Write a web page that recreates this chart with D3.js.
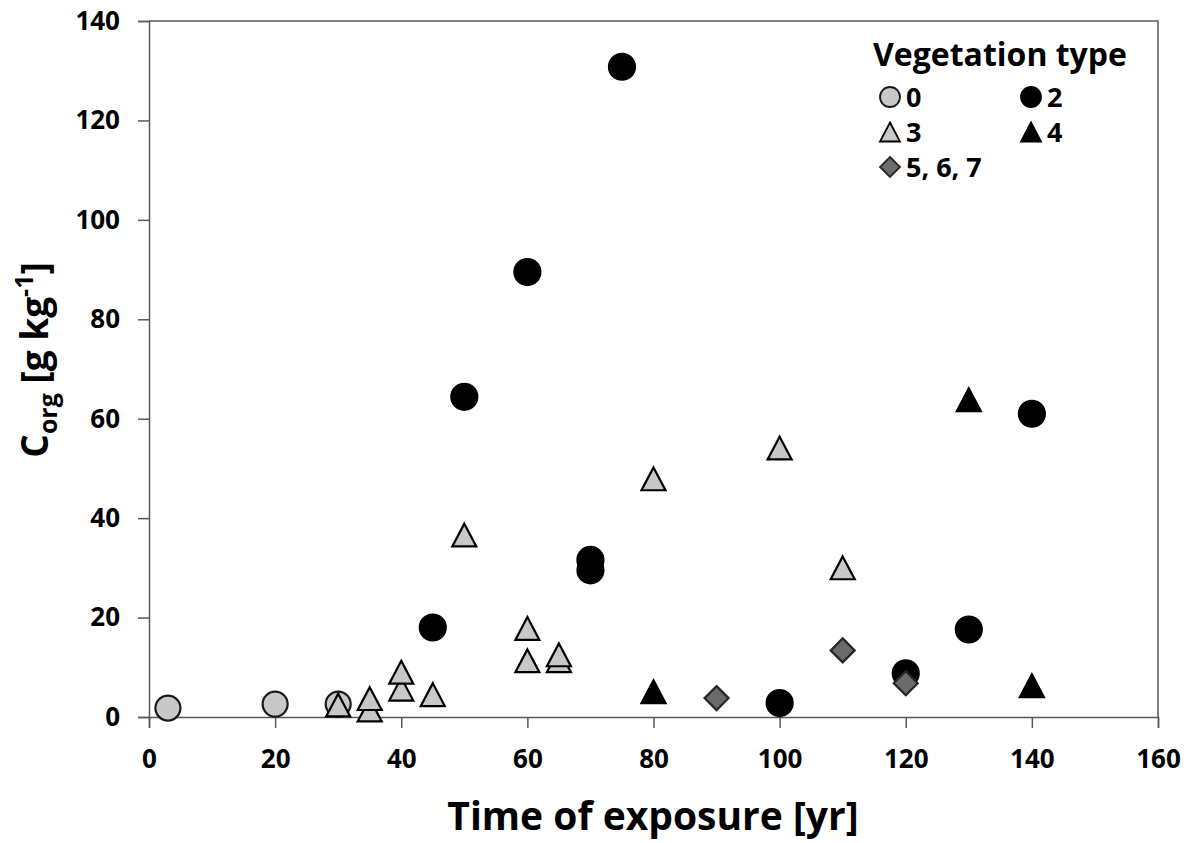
<!DOCTYPE html>
<html>
<head>
<meta charset="utf-8">
<script src="https://cdn.jsdelivr.net/npm/d3@7"></script>
<style>
  body { margin: 0; background: #fff; }
  svg { display: block; }
  text { font-family: 'Open Sans', sans-serif; font-weight: bold; }
</style>
</head>
<body>
<div id="chart"></div>
<script>
// data
const type0 = [[3, 1.8], [20, 2.6], [30, 2.6]];
const type2 = [[45, 18], [50, 64.4], [60, 89.5], [70, 29.5], [70, 31.6], [75, 130.8],
               [100, 2.8], [120, 8.8], [130, 17.6], [140, 61]];
const type3 = [[30, 2.4], [35, 1.4], [35, 3.7], [40, 5.6], [40, 9.0], [45, 4.5], [50, 36.6],
               [60, 17.8], [60, 11.3], [65, 11.3], [65, 12.5], [80, 47.9], [100, 54.1], [110, 30]];
const type4 = [[80, 5.1], [130, 63.8], [140, 6.3]];
const type567 = [[90, 3.8], [110, 13.4], [120, 6.8]];
const xTicks = [0, 20, 40, 60, 80, 100, 120, 140, 160];
const yTicks = [0, 20, 40, 60, 80, 100, 120, 140];

const width = 1196, height = 843;
const plotLeft = 149, plotRight = 1158, plotTop = 21, plotBottom = 717;

const svg = d3.select("#chart").append("svg")
  .attr("width", width)
  .attr("height", height);

const x = d3.scaleLinear().domain([0, 160]).range([plotLeft, plotRight]);
const y = d3.scaleLinear().domain([0, 140]).range([plotBottom, plotTop]);

// frame (top + right)
svg.append("path")
  .attr("d", `M${plotLeft},${plotTop}H${plotRight}V${plotBottom}`)
  .attr("fill", "none")
  .attr("stroke", "#595959")
  .attr("stroke-width", 1.5);

const xAxis = svg.append("g")
  .attr("transform", `translate(0,${plotBottom})`)
  .call(d3.axisBottom(x).tickValues(xTicks).tickSize(11).tickPadding(22));
const yAxis = svg.append("g")
  .attr("transform", `translate(${plotLeft},0)`)
  .call(d3.axisLeft(y).tickValues(yTicks).tickSize(11).tickPadding(18));

[xAxis, yAxis].forEach(g => {
  g.select(".domain").attr("stroke", "#595959").attr("stroke-width", 1.5);
  g.selectAll(".tick line").attr("stroke", "#595959").attr("stroke-width", 1.5);
  g.selectAll(".tick text")
    .attr("fill", "#000")
    .style("font-family", "'Open Sans', sans-serif")
    .style("font-weight", "bold")
    .style("font-size", "26px");
});

// marker shapes, centred on their bounding box
function shape(kind, s) {
  const h = s / 2;
  if (kind === "circle") return d3.symbol(d3.symbolCircle, Math.PI * h * h)();
  if (kind === "triangle") return `M0,${-h * 0.95}L${h},${h * 0.95}L${-h},${h * 0.95}Z`;
  if (kind === "diamond") return `M0,${-h}L${h},0L0,${h}L${-h},0Z`;
}

const series = [
  { name: "0", data: type0, kind: "circle", fill: "#c8c8c8", stroke: "#1a1a1a", size: 25 },
  { name: "2", data: type2, kind: "circle", fill: "#000", stroke: "#000", size: 26 },
  { name: "3", data: type3, kind: "triangle", fill: "#c8c8c8", stroke: "#000", size: 24 },
  { name: "4", data: type4, kind: "triangle", fill: "#000", stroke: "#000", size: 24 },
  { name: "5, 6, 7", data: type567, kind: "diamond", fill: "#6b6b6b", stroke: "#262626", size: 24 }
];

series.forEach(s => {
  svg.append("g").selectAll("path")
    .data(s.data)
    .enter()
    .append("path")
    .attr("d", shape(s.kind, s.size))
    .attr("transform", d => `translate(${x(d[0])},${y(d[1])})`)
    .attr("fill", s.fill)
    .attr("stroke", s.stroke)
    .attr("stroke-width", 2.2)
    .attr("stroke-linejoin", "miter");
});

// axis titles
svg.append("text")
  .attr("x", 653)
  .attr("y", 830)
  .attr("text-anchor", "middle")
  .style("font-size", "39px")
  .text("Time of exposure [yr]");

const yt = svg.append("text")
  .attr("transform", "translate(48,360) rotate(-90)")
  .attr("text-anchor", "middle")
  .style("font-size", "37px");
yt.append("tspan").text("C");
yt.append("tspan").attr("dy", 9).style("font-size", "25px").text("org");
yt.append("tspan").attr("dy", -9).text(" [g kg");
yt.append("tspan").attr("dy", -15).style("font-size", "25px").text("-1");
yt.append("tspan").attr("dy", 15).text("]");

// legend
const legend = svg.append("g");
legend.append("text")
  .attr("x", 873)
  .attr("y", 66)
  .style("font-size", "32px")
  .text("Vegetation type");

const legendPos = [[890, 97], [1031, 97], [890, 132], [1031, 132], [890, 167]];
series.forEach((s, i) => {
  const [lx, ly] = legendPos[i];
  legend.append("path")
    .attr("d", shape(s.kind, 20))
    .attr("transform", `translate(${lx},${ly})`)
    .attr("fill", s.fill)
    .attr("stroke", s.stroke)
    .attr("stroke-width", 1.8);
  legend.append("text")
    .attr("x", lx + 16)
    .attr("y", ly + 10)
    .style("font-size", "27px")
    .text(s.name);
});
</script>
</body>
</html>
